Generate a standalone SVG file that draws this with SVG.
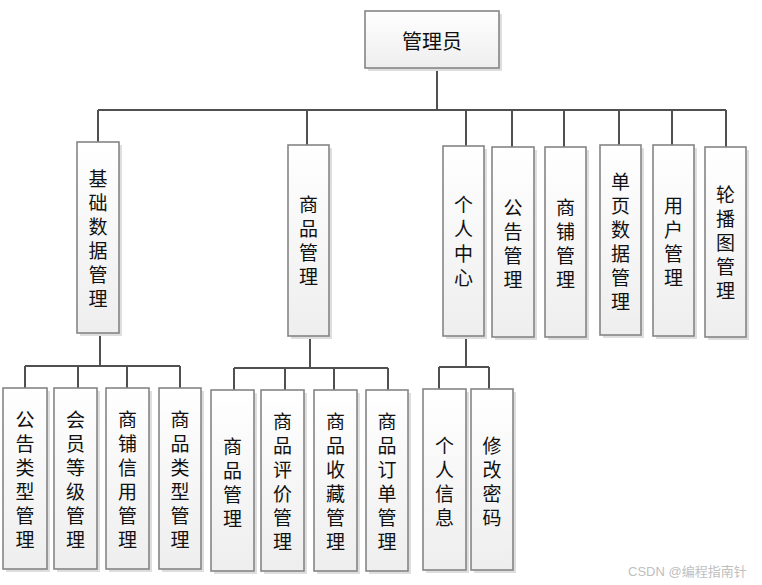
<svg xmlns="http://www.w3.org/2000/svg" width="762" height="585" viewBox="0 0 762 585">
<defs>
<linearGradient id="g" x1="0" y1="0" x2="0" y2="1">
<stop offset="0" stop-color="#ffffff"/>
<stop offset="1" stop-color="#eeeeee"/>
</linearGradient>
<style>
.box{fill:url(#g);stroke:#858585;stroke-width:1.6}
.sh{fill:#dedede}
.t{font-family:"Noto Sans CJK SC","Microsoft YaHei",sans-serif;font-size:19px;fill:#111;text-anchor:middle;dominant-baseline:central}
.c{fill:none;stroke:#505050;stroke-width:2}
.wm{font-family:"Liberation Sans","Noto Sans CJK SC",sans-serif;font-size:13px;fill:#c0c0c0}
</style>
</defs>
<rect width="762" height="585" fill="#ffffff"/>
<g id="connectors">
<path class="c" d="M437,68V110M98,110H726M98,110V142M307,110V145M466,110V146M512,110V147M564,110V147M619,110V145M672,110V145M726,110V147"/>
<path class="c" d="M100,333V366M25,366H180M25,366V388M78,366V388M127,366V388M180,366V388"/>
<path class="c" d="M310,336V368M234,368H388M234,368V390M285,368V390M334,368V390M388,368V390"/>
<path class="c" d="M466,336V367M439,367H489M439,367V389M489,367V389"/>
</g>
<g id="root">
<rect class="sh" x="368" y="14" width="134" height="57"/>
<rect class="box" x="365" y="11" width="134" height="57"/>
<text class="t" x="432" y="40" style="font-size:20px">管理员</text>
</g>
<g id="n_jichu">
<rect class="sh" x="80" y="145" width="42" height="191"/>
<rect class="box" x="77" y="142" width="42" height="191"/>
<text class="t"><tspan x="98" y="177">基</tspan><tspan x="98" y="201">础</tspan><tspan x="98" y="225">数</tspan><tspan x="98" y="249">据</tspan><tspan x="98" y="273">管</tspan><tspan x="98" y="297">理</tspan></text>
</g>
<g id="n_shangpin">
<rect class="sh" x="291" y="148" width="41" height="191"/>
<rect class="box" x="288" y="145" width="41" height="191"/>
<text class="t"><tspan x="308.5" y="203">商</tspan><tspan x="308.5" y="227">品</tspan><tspan x="308.5" y="251">管</tspan><tspan x="308.5" y="275">理</tspan></text>
</g>
<g id="n_geren">
<rect class="sh" x="446" y="149" width="41" height="190"/>
<rect class="box" x="443" y="146" width="41" height="190"/>
<text class="t"><tspan x="463.5" y="203">个</tspan><tspan x="463.5" y="227">人</tspan><tspan x="463.5" y="252">中</tspan><tspan x="463.5" y="276">心</tspan></text>
</g>
<g id="n_gonggao">
<rect class="sh" x="495" y="150" width="42" height="190"/>
<rect class="box" x="492" y="147" width="42" height="190"/>
<text class="t"><tspan x="513" y="206">公</tspan><tspan x="513" y="230">告</tspan><tspan x="513" y="254">管</tspan><tspan x="513" y="278">理</tspan></text>
</g>
<g id="n_shangpu">
<rect class="sh" x="548" y="150" width="41" height="190"/>
<rect class="box" x="545" y="147" width="41" height="190"/>
<text class="t"><tspan x="565.5" y="206">商</tspan><tspan x="565.5" y="230">铺</tspan><tspan x="565.5" y="254">管</tspan><tspan x="565.5" y="278">理</tspan></text>
</g>
<g id="n_danye">
<rect class="sh" x="603" y="148" width="41" height="190"/>
<rect class="box" x="600" y="145" width="41" height="190"/>
<text class="t"><tspan x="620.5" y="180">单</tspan><tspan x="620.5" y="204">页</tspan><tspan x="620.5" y="228">数</tspan><tspan x="620.5" y="252">据</tspan><tspan x="620.5" y="276">管</tspan><tspan x="620.5" y="300">理</tspan></text>
</g>
<g id="n_yonghu">
<rect class="sh" x="656" y="148" width="41" height="191"/>
<rect class="box" x="653" y="145" width="41" height="191"/>
<text class="t"><tspan x="673.5" y="204">用</tspan><tspan x="673.5" y="228">户</tspan><tspan x="673.5" y="252">管</tspan><tspan x="673.5" y="276">理</tspan></text>
</g>
<g id="n_lunbo">
<rect class="sh" x="708" y="150" width="41" height="190"/>
<rect class="box" x="705" y="147" width="41" height="190"/>
<text class="t"><tspan x="725.5" y="193">轮</tspan><tspan x="725.5" y="217">播</tspan><tspan x="725.5" y="241">图</tspan><tspan x="725.5" y="265">管</tspan><tspan x="725.5" y="289">理</tspan></text>
</g>
<g id="n_gglx">
<rect class="sh" x="6" y="391" width="44" height="181"/>
<rect class="box" x="3" y="388" width="44" height="181"/>
<text class="t"><tspan x="25" y="418">公</tspan><tspan x="25" y="442">告</tspan><tspan x="25" y="466">类</tspan><tspan x="25" y="490">型</tspan><tspan x="25" y="514">管</tspan><tspan x="25" y="538">理</tspan></text>
</g>
<g id="n_hydj">
<rect class="sh" x="57" y="391" width="43" height="181"/>
<rect class="box" x="54" y="388" width="43" height="181"/>
<text class="t"><tspan x="75.5" y="418">会</tspan><tspan x="75.5" y="442">员</tspan><tspan x="75.5" y="466">等</tspan><tspan x="75.5" y="490">级</tspan><tspan x="75.5" y="514">管</tspan><tspan x="75.5" y="538">理</tspan></text>
</g>
<g id="n_spxy">
<rect class="sh" x="109" y="391" width="43" height="181"/>
<rect class="box" x="106" y="388" width="43" height="181"/>
<text class="t"><tspan x="127.5" y="418">商</tspan><tspan x="127.5" y="442">铺</tspan><tspan x="127.5" y="466">信</tspan><tspan x="127.5" y="490">用</tspan><tspan x="127.5" y="514">管</tspan><tspan x="127.5" y="538">理</tspan></text>
</g>
<g id="n_splx">
<rect class="sh" x="162" y="391" width="42" height="181"/>
<rect class="box" x="159" y="388" width="42" height="181"/>
<text class="t"><tspan x="180" y="418">商</tspan><tspan x="180" y="442">品</tspan><tspan x="180" y="466">类</tspan><tspan x="180" y="490">型</tspan><tspan x="180" y="514">管</tspan><tspan x="180" y="538">理</tspan></text>
</g>
<g id="n_spgl">
<rect class="sh" x="214" y="393" width="43" height="181"/>
<rect class="box" x="211" y="390" width="43" height="181"/>
<text class="t"><tspan x="232.5" y="445">商</tspan><tspan x="232.5" y="469">品</tspan><tspan x="232.5" y="493">管</tspan><tspan x="232.5" y="517">理</tspan></text>
</g>
<g id="n_sppj">
<rect class="sh" x="264" y="393" width="43" height="181"/>
<rect class="box" x="261" y="390" width="43" height="181"/>
<text class="t"><tspan x="282.5" y="420">商</tspan><tspan x="282.5" y="444">品</tspan><tspan x="282.5" y="468">评</tspan><tspan x="282.5" y="492">价</tspan><tspan x="282.5" y="516">管</tspan><tspan x="282.5" y="540">理</tspan></text>
</g>
<g id="n_spsc">
<rect class="sh" x="317" y="393" width="43" height="181"/>
<rect class="box" x="314" y="390" width="43" height="181"/>
<text class="t"><tspan x="335.5" y="420">商</tspan><tspan x="335.5" y="444">品</tspan><tspan x="335.5" y="468">收</tspan><tspan x="335.5" y="492">藏</tspan><tspan x="335.5" y="516">管</tspan><tspan x="335.5" y="540">理</tspan></text>
</g>
<g id="n_spdd">
<rect class="sh" x="369" y="393" width="42" height="181"/>
<rect class="box" x="366" y="390" width="42" height="181"/>
<text class="t"><tspan x="387" y="420">商</tspan><tspan x="387" y="444">品</tspan><tspan x="387" y="468">订</tspan><tspan x="387" y="492">单</tspan><tspan x="387" y="516">管</tspan><tspan x="387" y="540">理</tspan></text>
</g>
<g id="n_grxx">
<rect class="sh" x="426" y="392" width="43" height="181"/>
<rect class="box" x="423" y="389" width="43" height="181"/>
<text class="t"><tspan x="444.5" y="444">个</tspan><tspan x="444.5" y="468">人</tspan><tspan x="444.5" y="492">信</tspan><tspan x="444.5" y="516">息</tspan></text>
</g>
<g id="n_xgmm">
<rect class="sh" x="474" y="392" width="42" height="181"/>
<rect class="box" x="471" y="389" width="42" height="181"/>
<text class="t"><tspan x="492" y="444">修</tspan><tspan x="492" y="468">改</tspan><tspan x="492" y="492">密</tspan><tspan x="492" y="516">码</tspan></text>
</g>
<text class="wm" x="628" y="576">CSDN @编程指南针</text>
</svg>
